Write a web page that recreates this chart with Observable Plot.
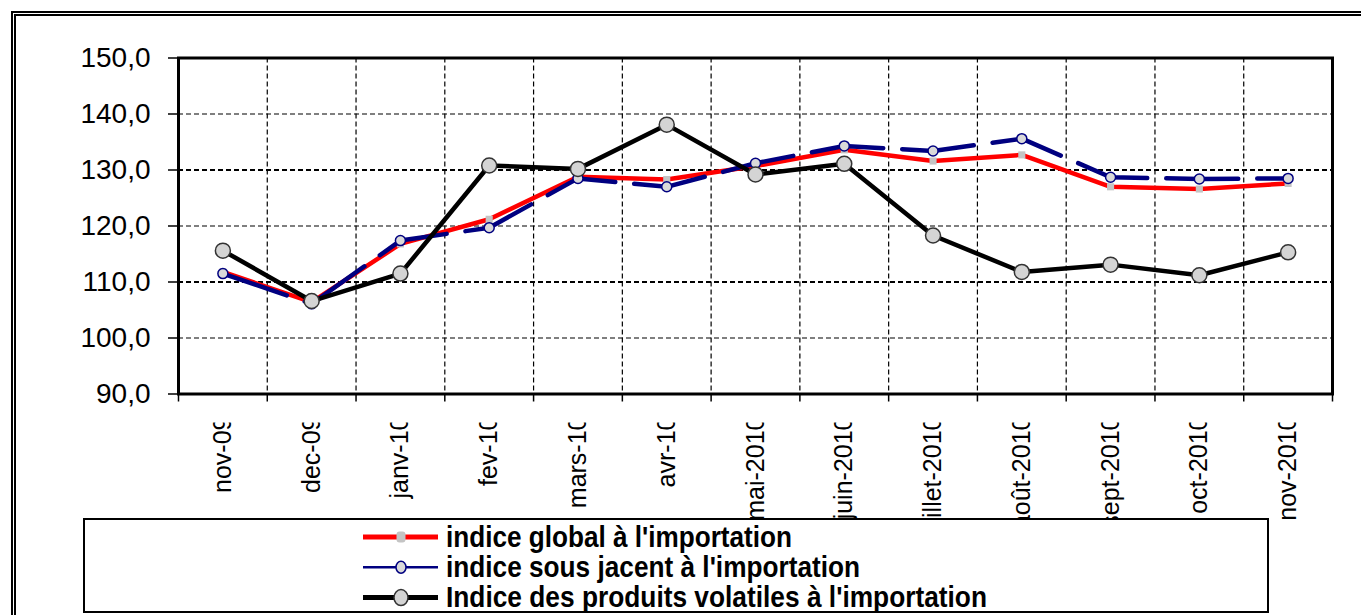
<!DOCTYPE html>
<html><head><meta charset="utf-8">
<script src="https://cdn.jsdelivr.net/npm/d3@7"></script>
<script src="https://cdn.jsdelivr.net/npm/@observablehq/plot@0.6"></script>
<style>
html,body{margin:0;padding:0;background:#fff;overflow:hidden;}
#wrap{position:relative;width:1361px;height:615px;overflow:hidden;background:#fff;}
#outer{position:absolute;left:11px;top:11px;width:1400px;height:700px;border:5px double #000;box-sizing:border-box;}
#chart{position:absolute;left:0;top:0;}
#legend{position:absolute;left:0;top:0;}
</style></head>
<body><div id="wrap"><div id="outer"></div><div id="chart"></div><div id="legend"></div></div>
<script>
// ---- data ----
const months = ["nov-09","dec-09","janv-10","fev-10","mars-10","avr-10","mai-2010","juin-2010","juillet-2010","août-2010","sept-2010","oct-2010","nov-2010"];
const indiceGlobal = [111.8,106.4,116.8,121.2,128.8,128.3,130.7,133.6,131.6,132.7,127.0,126.6,127.6];
const indiceSousJacent = [111.5,106.1,117.4,119.7,128.5,127.0,131.2,134.3,133.4,135.6,128.7,128.4,128.5];
const indiceVolatiles = [115.6,106.6,111.5,130.8,130.2,138.1,129.2,131.1,118.3,111.8,113.1,111.2,115.3];
const yTicks = [90,100,110,120,130,140,150];
const seriesNames = ["indice global à l'importation","indice sous jacent à l'importation","Indice des produits volatiles à l'importation"];

const idx = months.map((_, i) => i);
const bounds = d3.range(-0.5, months.length, 1);
const innerBounds = bounds.slice(1, -1);
const fmt = d => d.toFixed(1).replace(".", ",");
const labelDy = 22.5;

const chart = Plot.plot({
  width: 1361, height: 615,
  marginLeft: 178, marginRight: 29, marginTop: 57.5, marginBottom: 221.5,
  style: {fontFamily: "'Liberation Sans', Arial, sans-serif", background: "transparent", color: "#000", overflow: "visible"},
  x: {type: "linear", domain: [-0.5, months.length - 0.5], axis: null},
  y: {domain: [90, 150], axis: null},
  marks: [
    Plot.ruleY(yTicks.slice(1, -1), {y: d => d, stroke: "#000", strokeWidth: d => (d === 110 || d === 130) ? 1.8 : 1.1, strokeDasharray: "5,3"}),
    Plot.ruleX(innerBounds, {x: d => d, stroke: "#000", strokeWidth: 1.2, strokeDasharray: "5,3"}),
    Plot.line(idx, {x: i => i, y: i => indiceGlobal[i], stroke: "#ff0000", strokeWidth: 4.5, strokeLinejoin: "round"}),
    Plot.dot(idx, {x: i => i, y: i => indiceGlobal[i], symbol: "square", r: 4, fill: "#c4c4c4", stroke: "none"}),
    Plot.line(idx, {x: i => i, y: i => indiceSousJacent[i], stroke: "#000080", strokeWidth: 4.5, strokeDasharray: "72,19", strokeDashoffset: 4.5, strokeLinejoin: "round"}),
    Plot.dot(idx, {x: i => i, y: i => indiceSousJacent[i], r: 5, fill: "#d9d9d9", stroke: "#000080", strokeWidth: 1.5}),
    Plot.line(idx, {x: i => i, y: i => indiceVolatiles[i], stroke: "#000", strokeWidth: 4.5, strokeLinejoin: "round"}),
    Plot.dot(idx, {x: i => i, y: i => indiceVolatiles[i], r: 7.5, fill: "#d4d4d4", stroke: "#333", strokeWidth: 1.5}),
    Plot.frame({stroke: "#000", strokeWidth: 3}),
    Plot.axisY(yTicks, {tickSize: 10, tickPadding: 18, fontSize: 28, tickFormat: fmt, strokeWidth: 1.5}),
    Plot.axisX(bounds, {tickSize: 8, tickFormat: () => "", strokeWidth: 1.5}),
    Plot.text(idx, {x: i => i, text: i => months[i], frameAnchor: "bottom", dy: labelDy, rotate: -90, textAnchor: "end", lineAnchor: "middle", fontSize: 25, fill: "#000"})
  ]
});
document.getElementById("chart").appendChild(chart);

// clip the month labels at their top edge (y = 422 on the page), as in the original
const svg = d3.select(chart);
svg.append("defs").append("clipPath").attr("id", "xlabClip")
  .append("rect").attr("x", -100).attr("y", 422 - labelDy).attr("width", 1600).attr("height", 300);
svg.selectAll('g[aria-label="text"]').attr("clip-path", "url(#xlabClip)");

// ---- legend ----
const styles = [
  {stroke: "#ff0000", width: 5, marker: "square", mfill: "#c4c4c4", mstroke: "none", r: 5},
  {stroke: "#000080", width: 2.5, marker: "circle", mfill: "#d9d9d9", mstroke: "#000080", r: 5},
  {stroke: "#000", width: 5, marker: "circle", mfill: "#d4d4d4", mstroke: "#333", r: 7}
];
const textLengths = [346, 414, 541];
const L = d3.select("#legend").append("svg").attr("width", 1361).attr("height", 615)
  .style("font-family", "'Liberation Sans', Arial, sans-serif");
L.append("rect").attr("x", 84).attr("y", 519).attr("width", 1184).attr("height", 93)
  .attr("fill", "#fff").attr("stroke", "#000").attr("stroke-width", 2);
seriesNames.forEach((name, k) => {
  const s = styles[k];
  const cy = 537 + k * 30.3;
  L.append("line").attr("x1", 363).attr("x2", 438).attr("y1", cy).attr("y2", cy)
    .attr("stroke", s.stroke).attr("stroke-width", s.width);
  if (s.marker === "square") {
    L.append("rect").attr("x", 401 - 4.5).attr("y", cy - 5.5).attr("width", 9).attr("height", 11).attr("rx", 3)
      .attr("fill", s.mfill);
  } else {
    L.append("ellipse").attr("cx", 401).attr("cy", cy).attr("rx", s.r).attr("ry", s.r + 1)
      .attr("fill", s.mfill).attr("stroke", s.mstroke).attr("stroke-width", 1.5);
  }
  L.append("text").attr("x", 446).attr("y", 546.5 + k * 30).text(name)
    .attr("font-size", 29).attr("font-weight", "bold")
    .attr("textLength", textLengths[k]).attr("lengthAdjust", "spacingAndGlyphs");
});
</script>
</body></html>
